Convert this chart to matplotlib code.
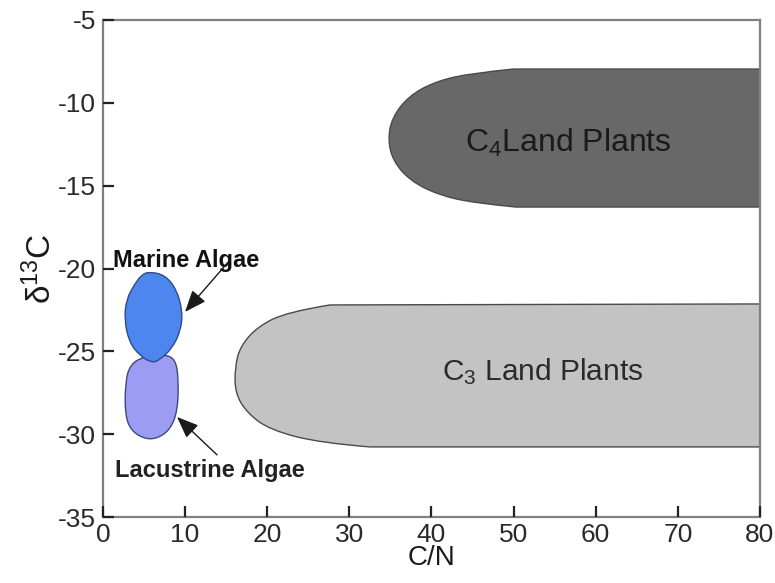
import matplotlib
matplotlib.use("Agg")
import matplotlib.pyplot as plt
from matplotlib.path import Path
from matplotlib.patches import PathPatch

plt.rcParams["font.family"] = ["Liberation Sans", "DejaVu Sans"]
plt.rcParams["mathtext.fontset"] = "custom"
plt.rcParams["mathtext.rm"] = "Liberation Sans"
plt.rcParams["mathtext.it"] = "Liberation Sans:italic"
plt.rcParams["mathtext.bf"] = "Liberation Sans:bold"
plt.rcParams["xtick.direction"] = "in"
plt.rcParams["ytick.direction"] = "in"

# ---- axis settings -------------------------------------------------------
x_ticks = [0, 10, 20, 30, 40, 50, 60, 70, 80]
y_ticks = [-35, -30, -25, -20, -15, -10, -5]

# ---- source field outlines (C/N, d13C) -----------------------------------
# C4 land plants: rounded left end, open towards high C/N
c4_x = [80, 50.0, 45.0, 40.5, 37.2, 35.2, 34.7, 35.3, 37.4, 40.8, 45.2, 50.3, 80]
c4_y = [-7.96, -7.96, -8.2, -8.7, -9.6, -10.9, -12.2, -13.5, -14.7, -15.55,
        -16.05, -16.29, -16.29]

# C3 land plants
c3_x = [80, 27.65, 22.41, 18.76, 16.69, 16.08, 16.08, 17.54, 20.34, 26.43, 32.52, 80]
c3_y = [-22.14, -22.20, -22.62, -23.53, -24.73, -25.94, -27.51, -28.72, -29.74,
        -30.53, -30.77, -30.77]

# Marine algae
marine_x = [5.72, 7.55, 8.95, 9.7, 9.45, 8.45, 6.94, 5.97, 4.45, 3.2, 2.6, 2.85, 3.85, 4.75]
marine_y = [-20.2, -20.4, -21.25, -22.62, -23.75, -24.8, -25.5, -25.7, -25.25,
            -24.45, -23.1, -21.85, -20.95, -20.35]

# Lacustrine algae
lacus_x = [3.25, 5.12, 7.55, 8.85, 9.2, 9.08, 8.2, 6.7, 5.12, 3.45, 2.7, 2.7]
lacus_y = [-25.8, -25.28, -25.18, -25.5, -26.73, -28.6, -29.7, -30.25, -30.3,
           -29.8, -28.88, -27.0]


def smooth_closed(xs, ys):
    """Closed outline smoothed with quadratic Bezier segments."""
    pts = list(zip(xs, ys))
    n = len(pts)
    mid = lambda a, b: ((a[0] + b[0]) / 2, (a[1] + b[1]) / 2)
    verts = [mid(pts[-1], pts[0])]
    codes = [Path.MOVETO]
    for i in range(n):
        verts += [pts[i], mid(pts[i], pts[(i + 1) % n])]
        codes += [Path.CURVE3, Path.CURVE3]
    verts.append(verts[0])
    codes.append(Path.CLOSEPOLY)
    return Path(verts, codes)


def rounded_band(xs, ys):
    """Straight top/bottom edges joined by a smooth curve on the left."""
    pts = list(zip(xs, ys))
    mid = lambda a, b: ((a[0] + b[0]) / 2, (a[1] + b[1]) / 2)
    verts = [pts[0], pts[1]]
    codes = [Path.MOVETO, Path.LINETO]
    curve = pts[1:-1]
    m = len(curve)
    for i in range(1, m - 2):
        verts += [curve[i], mid(curve[i], curve[i + 1])]
        codes += [Path.CURVE3, Path.CURVE3]
    verts += [curve[m - 2], curve[m - 1]]
    codes += [Path.CURVE3, Path.CURVE3]
    verts += [pts[-1], pts[0]]
    codes += [Path.LINETO, Path.CLOSEPOLY]
    return Path(verts, codes)


fig = plt.figure(figsize=(7.75, 5.83), dpi=100)
ax = fig.add_axes([0.1329, 0.1132, 0.8477, 0.8525])

ax.add_patch(PathPatch(rounded_band(c4_x, c4_y), facecolor="#686868",
                       edgecolor="#4a4a4a", lw=1.0, zorder=2))
ax.add_patch(PathPatch(rounded_band(c3_x, c3_y), facecolor="#c3c3c3",
                       edgecolor="#4a4a4a", lw=1.0, zorder=2))
ax.add_patch(PathPatch(smooth_closed(lacus_x, lacus_y), facecolor="#9c9cf4",
                       edgecolor="#3c4a78", lw=1.0, zorder=3))
ax.add_patch(PathPatch(smooth_closed(marine_x, marine_y), facecolor="#4d86ef",
                       edgecolor="#2f4a86", lw=1.0, zorder=4))

ax.text(44.1, -12.97, r"C$_4$Land Plants", fontsize=23, color="#1a1a1a",
        ha="left", va="baseline", zorder=5)
ax.text(41.3, -26.73, r"C$_3$ Land Plants", fontsize=21.5, color="#2a2a2a",
        ha="left", va="baseline", zorder=5)

ax.text(1.2, -19.9, "Marine Algae", fontsize=17, fontweight="bold",
        color="#111111", ha="left", va="baseline", zorder=6)
ax.text(1.45, -32.58, "Lacustrine Algae", fontsize=17, fontweight="bold",
        color="#222222", ha="left", va="baseline", zorder=6)

arrow_style = dict(arrowstyle="-|>,head_length=0.95,head_width=0.38",
                   mutation_scale=14, color="#1a1a1a", lw=1.0,
                   shrinkA=0, shrinkB=0)
ax.annotate("", xy=(9.99, -22.62), xytext=(15.47, -19.48),
            arrowprops=arrow_style, zorder=6)
ax.annotate("", xy=(9.01, -28.96), xytext=(13.89, -31.25),
            arrowprops=arrow_style, zorder=6)

ax.set_xlim(0, 80)
ax.set_ylim(-35, -5)
ax.set_xticks(x_ticks)
ax.set_yticks(y_ticks)
ax.set_xticklabels([str(v) for v in x_ticks])
ax.set_yticklabels([str(v) for v in y_ticks])

ax.tick_params(axis="both", which="major", direction="in", labelsize=19,
               labelcolor="#2a2a2a", color="#222222", width=1.6, length=8,
               left=True, bottom=True, right=False, top=False)
ax.tick_params(axis="y", pad=5)
ax.tick_params(axis="x", pad=4)
ax.set_axisbelow(False)
for side in ["left", "bottom", "right", "top"]:
    ax.spines[side].set_color("#808080")
    ax.spines[side].set_linewidth(1.6)

ax.set_xlabel("C/N", fontsize=20, color="#1a1a1a", labelpad=-1)
ax.set_ylabel("δ$^{13}$C", fontsize=24, color="#1a1a1a", labelpad=0)

fig.savefig("out.png", dpi=100)
